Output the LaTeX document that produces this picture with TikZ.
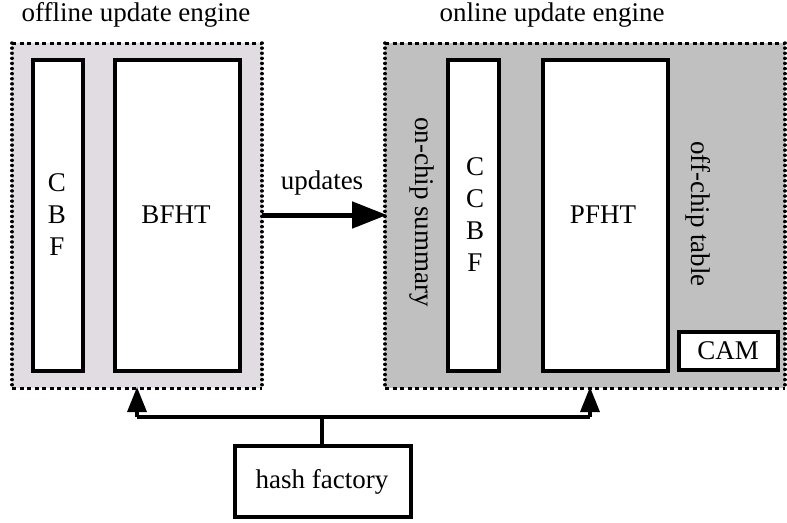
\documentclass[tikz,border=0pt]{standalone}
\usepackage{fontspec}
\setmainfont{Liberation Serif}
\usetikzlibrary{arrows.meta}
\definecolor{offfill}{RGB}{224,220,226}
\definecolor{onfill}{RGB}{192,192,192}
\tikzset{
  hedge/.style={line width=3pt, dash pattern=on 4pt off 3.5pt},
  vedge/.style={line width=3.4pt, dash pattern=on 0.1pt off 5pt, line cap=round},
  memblock/.style={draw, line width=3.4pt, fill=white, inner sep=0pt},
  lbl/.style={font=\fontsize{27}{31}\selectfont, inner sep=0pt},
  conn/.style={line width=3.4pt},
}
\begin{document}
\begin{tikzpicture}[x=1pt,y=-1pt]
\useasboundingbox (0,0) rectangle (787,522);
% engines
\fill[offfill] (12,43) rectangle (262,388);
\fill[onfill] (385,43) rectangle (785,388);
\coordinate (offA) at (12,43); \coordinate (offB) at (262,43);
\coordinate (offC) at (262,388); \coordinate (offD) at (12,388);
\coordinate (onA) at (385,43); \coordinate (onB) at (785,43);
\coordinate (onC) at (785,388); \coordinate (onD) at (385,388);
\draw[hedge] (offA) -- (offB); \draw[hedge] (offD) -- (offC);
\draw[vedge] (offA) -- (offD); \draw[vedge] (offB) -- (offC);
\draw[hedge] (onA) -- (onB); \draw[hedge] (onD) -- (onC);
\draw[vedge] (onA) -- (onD); \draw[vedge] (onB) -- (onC);
\node[lbl] (offt) at (136,15) {offline update engine};
\node[lbl] (ont) at (552,15) {online update engine};
% blocks
\node[memblock, minimum width=50pt, minimum height=311pt] (cbf) at (58,215.5) {};
\node[lbl, align=center] at (57,215) {C\\[1pt]B\\[1pt]F};
\node[memblock, minimum width=125pt, minimum height=311pt] (bfht) at (177.5,215.5) {};
\node[lbl] at (176,215) {BFHT};
\node[memblock, minimum width=51pt, minimum height=311pt] (ccbf) at (473.5,215.5) {};
\node[lbl, align=center] at (475,215) {C\\[1pt]C\\[1pt]B\\[1pt]F};
\node[memblock, minimum width=125pt, minimum height=311pt] (pfht) at (605.5,215.5) {};
\node[lbl] at (603,215) {PFHT};
\node[memblock, minimum width=99pt, minimum height=38pt] (cam) at (728.5,351) {};
\node[lbl] at (728,351) {CAM};
\node[lbl, rotate=-90] (ons) at (422,212) {on-chip summary};
\node[lbl, rotate=-90] (offc) at (698,214) {off-chip table};
% updates arrow
\coordinate (ua) at (262,215);
\coordinate (ub) at (387,215);
\draw[line width=5pt, -{Triangle[length=35pt,width=26pt]}] (ua) -- (ub);
\node[lbl] (upd) at (322,183) {updates};
% hash factory
\node[draw, line width=3.4pt, minimum width=176pt, minimum height=71pt, inner sep=0pt] (hash) at (323,481.5) {};
\node[lbl] at (322,482) {hash factory};
\coordinate (j) at (322,417);
\coordinate (la) at (137,417);
\coordinate (ra) at (590,417);
\coordinate (lt) at (137,387);
\coordinate (rt) at (590,387);
\draw[conn] (hash.north -| j) -- (j);
\draw[conn] (la) -- (ra);
\draw[conn, -{Triangle[length=25pt,width=19pt]}] (la) -- (lt);
\draw[conn, -{Triangle[length=25pt,width=19pt]}] (ra) -- (rt);
\end{tikzpicture}
\end{document}
